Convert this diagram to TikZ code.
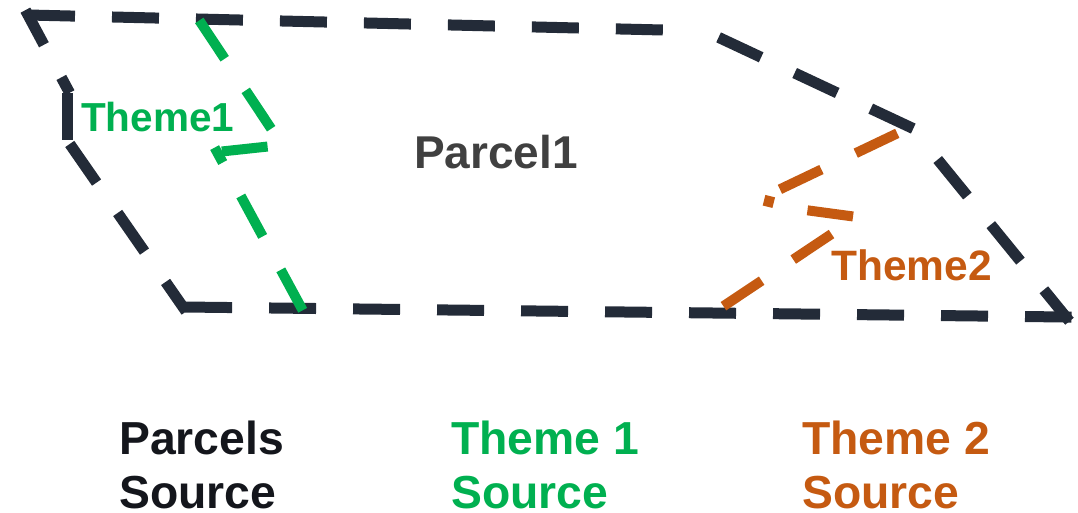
\documentclass[tikz,border=0pt]{standalone}
\usepackage{fontspec}
\setmainfont{Liberation Sans}
\definecolor{parcelline}{RGB}{35,43,56}
\definecolor{themegreen}{RGB}{0,176,80}
\definecolor{themeorange}{RGB}{197,90,17}
\definecolor{parceltext}{RGB}{64,64,64}
\definecolor{sourcetext}{RGB}{20,22,28}
\begin{document}
\begin{tikzpicture}[x=1pt,y=-1pt,
  dashline/.style={line cap=rect, dash pattern=on 36pt off 48pt},
  parcel/.style={dashline, draw=parcelline, line width=11pt},
  themeone/.style={dashline, draw=themegreen, line width=10pt},
  themetwo/.style={dashline, draw=themeorange, line width=10pt},
  lbl/.style={inner sep=0pt, anchor=base west},
  srclbl/.style={inner sep=0pt, anchor=north west, align=left,
    font=\bfseries\fontsize{46.3}{53.5}\selectfont}
]
\useasboundingbox (0,0) rectangle (1078,513);
% parcel outline
\coordinate (p1) at (28,15);
\coordinate (p2) at (705,31);
\coordinate (p3) at (912,128);
\coordinate (p4) at (1066,317);
\coordinate (p5) at (183,307);
\coordinate (p6) at (67,140);
\coordinate (p7) at (67,88);
\draw[parcel, dash phase=78.5pt] (p1) -- (p2);
\draw[parcel, dash phase=63.5pt] (p2) -- (p3);
\draw[parcel, dash phase=37.8pt] (p3) -- (p4);
\draw[parcel, dash phase=0.5pt] (p4) -- (p5);
\draw[parcel, dash phase=11pt] (p5) -- (p6);
\draw[parcel, dash phase=78.5pt] (p6) -- (p7);
\draw[parcel, dash phase=29.5pt] (p7) -- (p1);
% theme 1
\coordinate (g1) at (199,20);
\coordinate (g2) at (282,145);
\coordinate (g3) at (217,152);
\coordinate (g4) at (302,309);
\draw[themeone, dash phase=78.5pt] (g1) -- (g2);
\draw[themeone, dash phase=64.5pt] (g2) -- (g3);
\draw[themeone, dash phase=29pt] (g3) -- (g4);
% theme 2
\coordinate (o1) at (723,306.5);
\coordinate (o2) at (857,217);
\coordinate (o3) at (768,205);
\coordinate (o4) at (769,201);
\coordinate (o5) at (768,195);
\coordinate (o6) at (898,133);
\draw[themetwo, dash phase=78.5pt] (o1) -- (o2);
\draw[themetwo, dash phase=75pt] (o2) -- (o3) -- (o4);
\draw[themetwo, dash phase=65.8pt] (o5) -- (o6);
% labels
\node[lbl, text=parceltext, font=\bfseries\fontsize{46}{54}\selectfont] (parcel) at (414,169) {Parcel1};
\node[lbl, text=themegreen, font=\bfseries\fontsize{40.5}{48}\selectfont] (themeonelbl) at (81,132) {Theme1};
\node[lbl, text=themeorange, font=\bfseries\fontsize{42.5}{50}\selectfont] (themetwolbl) at (831,280) {Theme2};
\node[srclbl, text=sourcetext] (psrc) at (119,421) {Parcels\\Source};
\node[srclbl, text=themegreen] (t1src) at (451,421) {Theme 1\\Source};
\node[srclbl, text=themeorange] (t2src) at (802,421) {Theme 2\\Source};
\end{tikzpicture}
\end{document}
